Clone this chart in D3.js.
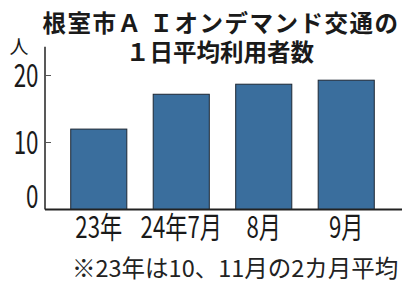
<!DOCTYPE html>
<html>
<head>
<meta charset="utf-8">
<script src="https://cdn.jsdelivr.net/npm/d3@7"></script>
<style>
  html, body { margin: 0; padding: 0; background: #fff; }
  svg { display: block; font-family: "Noto Sans CJK JP", "Noto Sans", sans-serif; }
</style>
</head>
<body>
<svg class="plot"></svg>
<script>
const categories = ['23年', '24年7月', '8月', '9月'];
const values = [12.0, 17.2, 18.7, 19.3];
const yTicks = [0, 10, 20];
const titleLines = ['根室市Ａ Ｉオンデマンド交通の', '１日平均利用者数'];
const unitLabel = '人';
const note = '※23年は10、11月の2カ月平均';

const W = 418, H = 293;
const svg = d3.select('.plot').attr('width', W).attr('height', H);

const xS = d3.scaleBand().domain(categories).range([60, 385])
  .paddingInner(0.32).paddingOuter(0.13);
const yS = d3.scaleLinear().domain([0, 20]).range([209.5, 75.5]);

// title
svg.append('g').selectAll('text').data(titleLines)
  .join('text')
  .attr('x', (d, i) => i === 0 ? 221 : 220)
  .attr('y', (d, i) => 32 + i * 29)
  .attr('text-anchor', 'middle')
  .attr('font-size', 23.5)
  .attr('font-weight', 700)
  .attr('letter-spacing', (d, i) => i === 0 ? 1.5 : 0)
  .attr('fill', '#1a1a1a')
  .text(d => d);

// bars
svg.append('g').selectAll('rect').data(values)
  .join('rect')
  .attr('x', (d, i) => xS(categories[i]))
  .attr('y', d => yS(d))
  .attr('width', xS.bandwidth())
  .attr('height', d => yS(0) - yS(d))
  .attr('fill', '#3a6e9d')
  .attr('stroke', '#1d2733')
  .attr('stroke-width', 1);

// y axis line + ticks
const axisX = 45;
svg.append('line')
  .attr('x1', axisX).attr('x2', axisX)
  .attr('y1', yS(24.3)).attr('y2', yS(0))
  .attr('stroke', '#222').attr('stroke-width', 1.5);

svg.append('g').selectAll('line').data(yTicks.filter(d => d > 0))
  .join('line')
  .attr('x1', axisX).attr('x2', axisX + 6)
  .attr('y1', d => yS(d)).attr('y2', d => yS(d))
  .attr('stroke', '#555').attr('stroke-width', 1);

svg.append('g').selectAll('text').data(yTicks)
  .join('text')
  .attr('transform', d => `translate(38.5,${d === 0 ? yS(0) - 1.5 : yS(d) + 11.5}) scale(0.7,1)`)
  .attr('text-anchor', 'end')
  .attr('font-size', 32)
  .attr('fill', '#1a1a1a')
  .text(d => d);

svg.append('text')
  .attr('x', 19).attr('y', 54)
  .attr('text-anchor', 'middle')
  .attr('font-size', 19)
  .attr('fill', '#1a1a1a')
  .text(unitLabel);

// baseline
svg.append('line')
  .attr('x1', axisX).attr('x2', 402)
  .attr('y1', yS(0)).attr('y2', yS(0))
  .attr('stroke', '#222').attr('stroke-width', 1.8);

// x labels
svg.append('g').selectAll('text').data(categories)
  .join('text')
  .attr('transform', d => `translate(${xS(d) + xS.bandwidth() / 2},238) scale(0.74,1)`)
  .attr('text-anchor', 'middle')
  .attr('font-size', 30)
  .attr('fill', '#1a1a1a')
  .text(d => d);

// note
svg.append('text')
  .attr('x', 72).attr('y', 277)
  .attr('font-size', 23.5)
  .attr('fill', '#222')
  .text(note);
</script>
</body>
</html>
